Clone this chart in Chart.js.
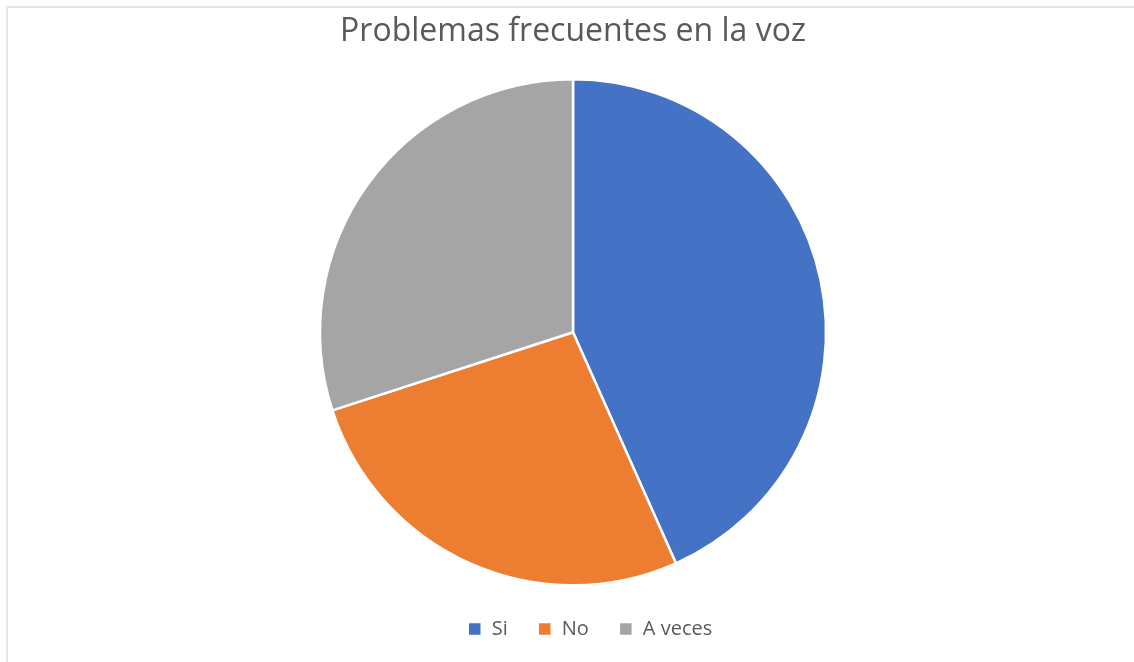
<!DOCTYPE html>
<html>
<head>
<meta charset="utf-8">
<script src="https://cdn.jsdelivr.net/npm/chart.js@4"></script>
<style>
  html, body { margin: 0; padding: 0; background: #fff; overflow: hidden; }
  #frame {
    position: absolute; left: 6px; top: 6px; width: 1140px; height: 670px;
    border-top: 2px solid #e6e6e6; border-left: 2px solid #e6e6e6;
  }
  #wrap { position: absolute; left: 0; top: 0; width: 1134px; height: 662px; }
</style>
</head>
<body>
<div id="frame"></div>
<div id="wrap"><canvas id="pie"></canvas></div>
<script>
/* ============================================================
   DATA
============================================================ */
const titleText = 'Problemas frecuentes en la voz';
const categories = ['Si', 'No', 'A veces'];
const counts     = [13, 8, 9];
const colours    = ['#4472C4', '#ED7D31', '#A5A5A5'];

const FONT = "'Open Sans', 'Liberation Sans', sans-serif";
const GREY = '#595959';

/* legend sits a bit right of the pie in the original */
const legendNudge = {
  id: 'legendNudge',
  afterLayout(chart) {
    chart.legend.left += 17;
    chart.legend.right += 17;
  }
};

/* ============================================================
   CHART
============================================================ */
new Chart(document.getElementById('pie'), {
  type: 'pie',
  data: {
    labels: categories,
    datasets: [{
      data: counts,
      backgroundColor: colours,
      borderColor: '#ffffff',
      borderWidth: 2.5
    }]
  },
  options: {
    responsive: true,
    maintainAspectRatio: false,
    animation: false,
    radius: 253,
    layout: { padding: { left: 12, right: 0, top: 0, bottom: 13 } },
    plugins: {
      title: {
        display: true,
        text: titleText,
        color: GREY,
        font: { family: FONT, size: 32, weight: 'normal' },
        padding: { top: 13, bottom: 24 }
      },
      legend: {
        position: 'bottom',
        labels: {
          color: GREY,
          font: { family: FONT, size: 20 },
          boxWidth: 14,
          boxHeight: 14,
          padding: 30
        }
      },
      tooltip: { enabled: false }
    }
  },
  plugins: [legendNudge]
});
</script>
</body>
</html>
